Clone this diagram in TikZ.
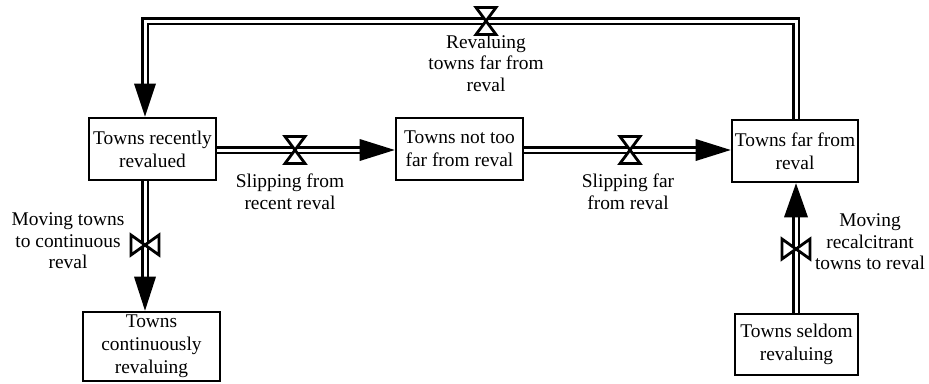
\documentclass[tikz,border=0pt]{standalone}
\usepackage{fontspec}
\setmainfont{Liberation Serif}
\usetikzlibrary{calc}

% hourglass valve on a horizontal pipe, bowtie valve on a vertical pipe
\newcommand\hvalveat[1]{%
  \filldraw[valveshape] ([shift={(-10,13.5)}]#1) -- ([shift={(10,13.5)}]#1)
    -- ([shift={(-10,-13.5)}]#1) -- ([shift={(10,-13.5)}]#1) -- cycle;}
\newcommand\vvalveat[1]{%
  \filldraw[valveshape] ([shift={(-14,10)}]#1) -- ([shift={(-14,-10)}]#1)
    -- ([shift={(14,10)}]#1) -- ([shift={(14,-10)}]#1) -- cycle;}

\begin{document}
\begin{tikzpicture}[x=1pt,y=-1pt,
  stock/.style={font=\fontsize{19.4}{23}\selectfont, draw, line width=2.6pt, fill=white, align=center, inner sep=0pt},
  lbl/.style={font=\fontsize{19.4}{21.5}\selectfont, align=center, inner sep=0pt},
  pipe/.style={line width=2.3pt, double=white, double distance=3pt},
  valveshape/.style={draw, fill=white, line width=2.8pt, line join=miter},
  flowtip/.style={fill=black}
]
\useasboundingbox (0,0) rectangle (929,383);

% stocks
\node[stock, minimum width=127, minimum height=62] (recent) at (152.5,149) {Towns recently\\revalued};
\node[stock, minimum width=127, minimum height=62] (mid) at (459.5,149) {Towns not too\\far from reval};
\node[stock, minimum width=126, minimum height=62] (far) at (795,151) {Towns far from\\reval};
\node[stock, minimum width=137, minimum height=69] (cont) at (151.5,346.5) {Towns\\continuously\\revaluing};
\node[stock, minimum width=123, minimum height=61] (seldom) at (796.5,344.5) {Towns seldom\\revaluing};

% pipe routing points
\coordinate (tl) at (145,21);
\coordinate (tr) at (796,21);
\coordinate (hrow) at (0,150);
\coordinate (dn) at (145,0);
\coordinate (up) at (796,0);

% valve centres
\coordinate (vtop) at (486,21);
\coordinate (vslip1) at (295,150);
\coordinate (vslip2) at (630,150);
\coordinate (vcont) at (145,245);
\coordinate (vrec) at (796,249);

% flows
\draw[pipe, shorten >=32] (far.north -| tr) -- (tr) -- (tl) -- (recent.north -| tl);
\fill[flowtip] (recent.north -| tl) -- ++(-11,-33) -- ++(22,0) -- cycle;

\draw[pipe, shorten >=32] (recent.east |- hrow) -- (mid.west |- hrow);
\fill[flowtip] (mid.west |- hrow) -- ++(-35,-11) -- ++(0,22) -- cycle;

\draw[pipe, shorten >=32] (mid.east |- hrow) -- (far.west |- hrow);
\fill[flowtip] (far.west |- hrow) -- ++(-35,-11) -- ++(0,22) -- cycle;

\draw[pipe, shorten >=32] (recent.south -| dn) -- (cont.north -| dn);
\fill[flowtip] (cont.north -| dn) -- ++(-11,-34) -- ++(22,0) -- cycle;

\draw[pipe, shorten >=32] (seldom.north -| up) -- (far.south -| up);
\fill[flowtip] (far.south -| up) -- ++(-12,34) -- ++(24,0) -- cycle;

% valves
\hvalveat{vtop}
\hvalveat{vslip1}
\hvalveat{vslip2}
\vvalveat{vcont}
\vvalveat{vrec}

% flow labels
\node[lbl] (ltop) at (486,63) {Revaluing\\towns far from\\reval};
\node[lbl] (lslip1) at (290,192) {Slipping from\\recent reval};
\node[lbl] (lslip2) at (628,192) {Slipping far\\from reval};
\node[lbl] (lcont) at (68,241) {Moving towns\\to continuous\\reval};
\node[lbl] (lrec) at (870,242) {Moving\\recalcitrant\\towns to reval};
\end{tikzpicture}
\end{document}
